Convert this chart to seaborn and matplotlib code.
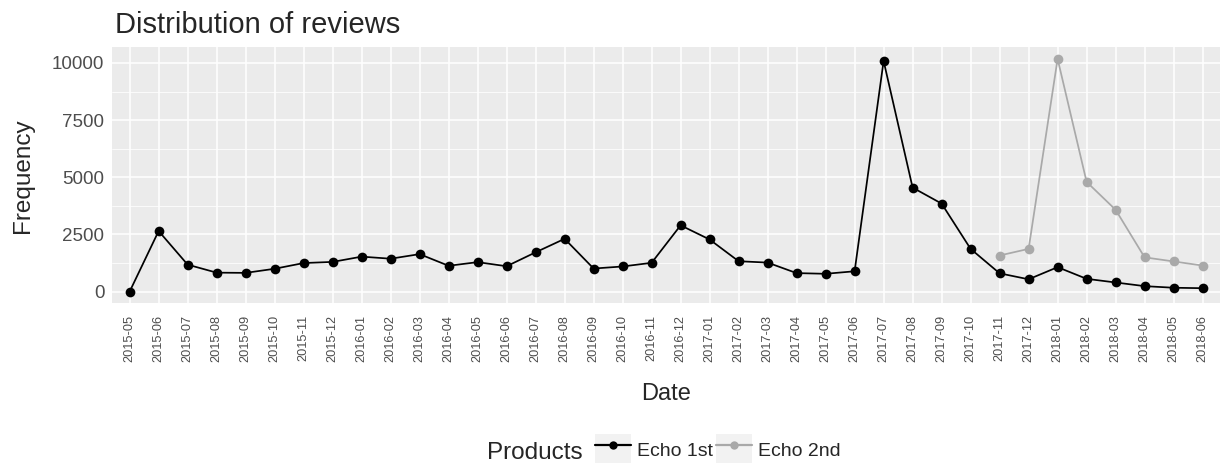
import seaborn as sns
import matplotlib.pyplot as plt
import pandas as pd
from matplotlib.ticker import MultipleLocator
from matplotlib.patches import Patch
from matplotlib.lines import Line2D
from matplotlib.legend_handler import HandlerTuple

# monthly review counts
months = ["2015-05", "2015-06", "2015-07", "2015-08", "2015-09", "2015-10", "2015-11", "2015-12",
          "2016-01", "2016-02", "2016-03", "2016-04", "2016-05", "2016-06", "2016-07", "2016-08",
          "2016-09", "2016-10", "2016-11", "2016-12", "2017-01", "2017-02", "2017-03", "2017-04",
          "2017-05", "2017-06", "2017-07", "2017-08", "2017-09", "2017-10", "2017-11", "2017-12",
          "2018-01", "2018-02", "2018-03", "2018-04", "2018-05", "2018-06"]
echo1 = [0, 2650, 1180, 830, 820, 1000, 1250, 1300,
         1530, 1440, 1640, 1130, 1290, 1110, 1720, 2310,
         1010, 1100, 1260, 2900, 2280, 1330, 1270, 810,
         780, 890, 10090, 4550, 3850, 1870, 800, 540,
         1070, 560, 400, 240, 170, 150]
months2 = ["2017-11", "2017-12", "2018-01", "2018-02", "2018-03", "2018-04", "2018-05", "2018-06"]
echo2 = [1580, 1870, 10180, 4800, 3580, 1500, 1320, 1140]

products = ['Echo 1st', 'Echo 2nd']
colors = {'Echo 1st': 'black', 'Echo 2nd': '#A9A9A9'}

df = pd.concat([
    pd.DataFrame({'Date': months, 'Frequency': echo1, 'Products': products[0]}),
    pd.DataFrame({'Date': months2, 'Frequency': echo2, 'Products': products[1]}),
])

sns.set_style("darkgrid", {"axes.facecolor": "#EBEBEB", "grid.color": "white"})
plt.rcParams['font.family'] = ['Liberation Sans', 'DejaVu Sans']

fig = plt.figure(figsize=(12.2, 4.63), dpi=100)
ax = fig.add_axes([0.092, 0.345, 0.908, 0.553])
sns.lineplot(data=df, x='Date', y='Frequency', hue='Products', sort=False,
             palette=colors, marker='o', markersize=7, markeredgewidth=0,
             linewidth=1.25, legend=False, ax=ax)

n = len(months)
ax.set_xlim(-0.6, n - 0.4)
ax.set_ylim(-509, 10689)
ax.yaxis.set_major_locator(MultipleLocator(2500))
ax.yaxis.set_minor_locator(MultipleLocator(1250))
ax.grid(which='major', color='white', linewidth=1.1)
ax.grid(which='minor', axis='y', color='white', linewidth=0.55)
for s in ax.spines.values():
    s.set_visible(False)
ax.tick_params(axis='both', which='major', length=3.6, width=0.9, color='#333333', direction='out')
ax.tick_params(axis='y', which='minor', length=0)
ax.tick_params(axis='y', labelsize=13.5, labelcolor='#4D4D4D', pad=2)
ax.tick_params(axis='x', labelsize=9.2, labelcolor='#4D4D4D', labelrotation=90, pad=5)

fig.text(115 / 1220, 1 - 33 / 463, 'Distribution of reviews', fontsize=21, ha='left', va='baseline')
ax.set_xlabel('Date', fontsize=17)
ax.set_ylabel('Frequency', fontsize=17.5)
ax.xaxis.set_label_coords(0.5, -0.312)
ax.yaxis.set_label_coords(-0.071, 0.5)

# ggplot-style legend keys: grey box with line and dot
handles = [(Patch(facecolor='#F2F2F2', edgecolor='none'),
            Line2D([], [], color=colors[p], marker='o', markersize=6, markeredgewidth=0, linewidth=1.6))
           for p in products]
fig.text(583 / 1220, 1 - 453 / 463, 'Products', fontsize=17.5, ha='right', va='center')
fig.legend(handles, products, loc='center left', bbox_to_anchor=(595 / 1220, 1 - 450 / 463), ncol=2,
           frameon=False, fontsize=14, handlelength=1.85, handleheight=2.1,
           columnspacing=0.15, handletextpad=0.3, borderpad=0, borderaxespad=0,
           handler_map={tuple: HandlerTuple(ndivide=1)})

fig.savefig('out.png', dpi=100)
